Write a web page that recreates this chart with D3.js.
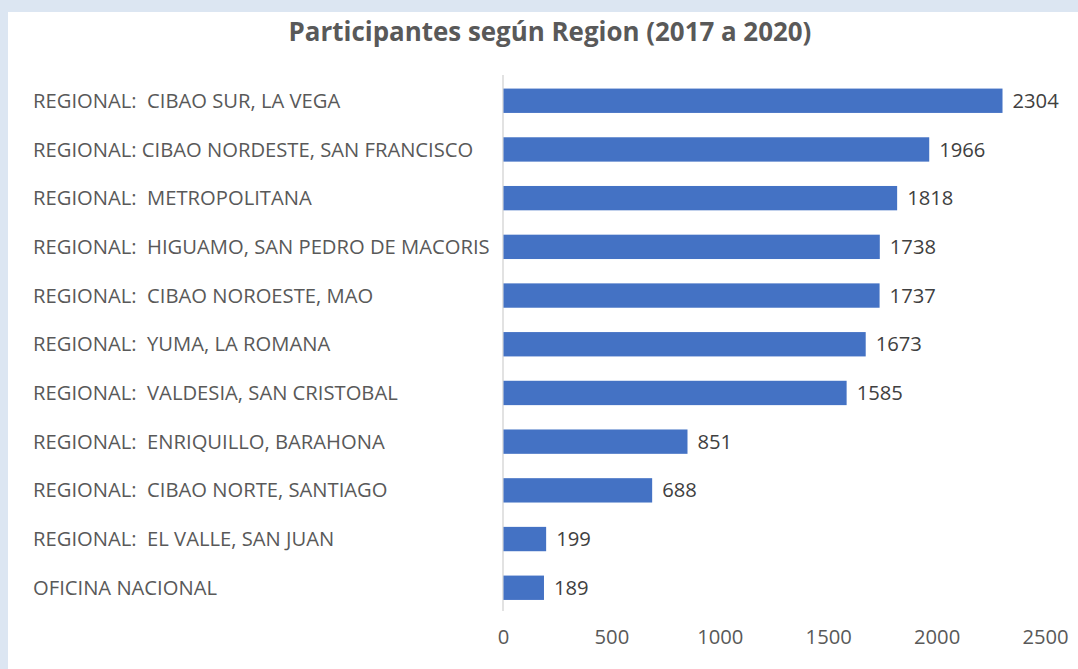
<!DOCTYPE html>
<html><head><meta charset="utf-8">
<script src="https://cdn.jsdelivr.net/npm/d3@7"></script>
<style>body{margin:0;background:#dce6f2;}svg{display:block}</style>
</head><body><svg id="c" width="1078" height="669"></svg>
<script>
const categories = [
  "REGIONAL:  CIBAO SUR, LA VEGA",
  "REGIONAL: CIBAO NORDESTE, SAN FRANCISCO",
  "REGIONAL:  METROPOLITANA",
  "REGIONAL:  HIGUAMO, SAN PEDRO DE MACORIS",
  "REGIONAL:  CIBAO NOROESTE, MAO",
  "REGIONAL:  YUMA, LA ROMANA",
  "REGIONAL:  VALDESIA, SAN CRISTOBAL",
  "REGIONAL:  ENRIQUILLO, BARAHONA",
  "REGIONAL:  CIBAO NORTE, SANTIAGO",
  "REGIONAL:  EL VALLE, SAN JUAN",
  "OFICINA NACIONAL"
];
const values = [2304, 1966, 1818, 1738, 1737, 1673, 1585, 851, 688, 199, 189];
const tickValues = [0, 500, 1000, 1500, 2000, 2500];
const title = "Participantes según Region (2017 a 2020)";

const svg = d3.select("#c");
svg.append("rect").attr("x",0).attr("y",0).attr("width",1078).attr("height",669).attr("fill","#dce6f2");
svg.append("rect").attr("x",8).attr("y",12).attr("width",1080).attr("height",670).attr("fill","#ffffff");

const font = "'Open Sans', 'DejaVu Sans', sans-serif";
const x = d3.scaleLinear().domain([0,2500]).range([503,1045]);
const y = d3.scaleBand().domain(categories).range([76.4,612.1]).paddingInner(0.5).paddingOuter(0.25);

// title
const t = svg.append("text").attr("x",550).attr("y",41).attr("text-anchor","middle")
  .attr("font-family",font).attr("font-weight","bold").attr("font-size",22).attr("fill","#595959").text(title);
let tw = t.node().getComputedTextLength();
t.attr("font-size", 22*523/tw);

// axis line
svg.append("line").attr("x1",x(0)).attr("x2",x(0)).attr("y1",75).attr("y2",611)
  .attr("stroke","#d9d9d9").attr("stroke-width",1.5);

// bars
svg.append("g").selectAll("rect").data(categories).join("rect")
  .attr("x",x(0)+0.5).attr("y",d=>y(d)).attr("height",y.bandwidth())
  .attr("width",(d,i)=>x(values[i])-x(0)-0.5).attr("fill","#4472c4");

// category labels
const labs = svg.append("g").selectAll("text").data(categories).join("text")
  .attr("x",33).attr("y",d=>y(d)+y.bandwidth()/2).attr("dy","0.35em")
  .attr("font-family",font).attr("font-size",16).attr("fill","#595959")
  .style("white-space","pre").text(d=>d);
const longest = labs.filter((d,i)=>i===3).node().getComputedTextLength();
const fs = 16*457/longest;
labs.attr("font-size",fs);

// value labels
svg.append("g").selectAll("text").data(categories).join("text")
  .attr("x",(d,i)=>x(values[i])+10).attr("y",d=>y(d)+y.bandwidth()/2).attr("dy","0.35em")
  .attr("font-family",font).attr("font-size",fs).attr("fill","#404040")
  .text((d,i)=>values[i]);

// x axis
const ax = svg.append("g").attr("transform","translate(0,630)")
  .call(d3.axisBottom(x).tickValues(tickValues).tickSize(0).tickPadding(0).tickFormat(d3.format("d")));
ax.select(".domain").remove();
ax.selectAll("text").attr("font-family",font).attr("font-size",fs).attr("fill","#595959").attr("dy","0.71em");
</script></body></html>
